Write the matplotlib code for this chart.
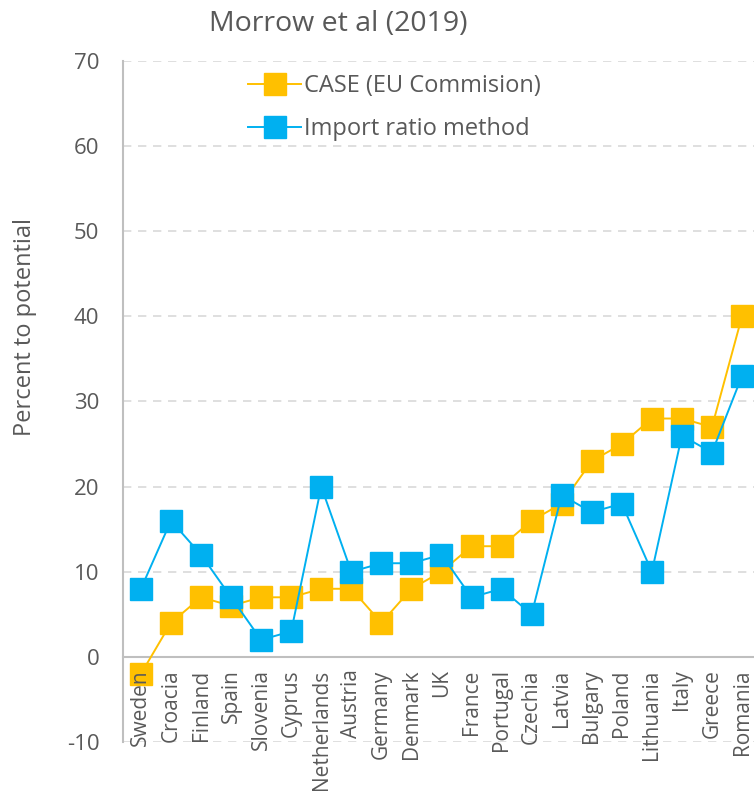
import matplotlib
matplotlib.use("Agg")
import matplotlib.pyplot as plt

countries = ["Sweden", "Croacia", "Finland", "Spain", "Slovenia", "Cyprus", "Netherlands",
             "Austria", "Germany", "Denmark", "UK", "France", "Portugal", "Czechia",
             "Latvia", "Bulgary", "Poland", "Lithuania", "Italy", "Greece", "Romania"]
case_eu = [-2, 4, 7, 6, 7, 7, 8, 8, 4, 8, 10, 13, 13, 16, 18, 23, 25, 28, 28, 27, 40]
import_ratio = [8, 16, 12, 7, 2, 3, 20, 10, 11, 11, 12, 7, 8, 5, 19, 17, 18, 10, 26, 24, 33]
yticks = [-10, 0, 10, 20, 30, 40, 50, 60, 70]

plt.rcParams['font.family'] = ['Open Sans', 'DejaVu Sans']
txt = '#595959'

fig = plt.figure(figsize=(7.54, 7.93), dpi=100)
ax = fig.add_axes([0.163, 0.0643, 0.845, 0.8588])

for s in ['top', 'right']:
    ax.spines[s].set_visible(False)
ax.spines['bottom'].set_position(('data', 0))
ax.spines['bottom'].set_color('#BFBFBF')
ax.spines['bottom'].set_linewidth(1.5)
ax.spines['left'].set_color('#BFBFBF')
ax.spines['left'].set_linewidth(1.5)

x = list(range(len(countries)))
ax.plot(x, case_eu, color='#FFC000', lw=1.4, marker='s', markersize=16,
        markeredgecolor='#FFC000', label='CASE (EU Commision)', zorder=3)
ax.plot(x, import_ratio, color='#00B0F0', lw=1.4, marker='s', markersize=16,
        markeredgecolor='#00B0F0', label='Import ratio method', zorder=4)

ax.set_ylim(-10, 70)
ax.set_xlim(-0.6, 20.6)
ax.set_yticks(yticks)
ax.set_yticklabels([str(v) for v in yticks], fontsize=16, color=txt)
ax.set_xticks(x)
ax.set_xticklabels(countries, rotation=90, fontsize=15, color=txt)
ax.tick_params(axis='y', length=0, pad=17)
ax.tick_params(axis='x', length=0, pad=9)

ax.yaxis.grid(True, linestyle=(0, (5, 4)), color='#D9D9D9', lw=1.2)
ax.set_axisbelow(True)
ax.xaxis.set_zorder(10)

fig.text(25 / 754, 1 - 327 / 793, 'Percent to potential', rotation=90,
         ha='center', va='center', fontsize=17, color=txt)
fig.text(0.448, 0.970, 'Morrow et al (2019)', ha='center', va='center', fontsize=20.5, color=txt)

leg = ax.legend(loc='upper left', bbox_to_anchor=(248 / 754, 1 - 74 / 793),
                bbox_transform=fig.transFigure, frameon=False, fontsize=17,
                handlelength=2.25, labelspacing=0.8, handletextpad=0.12,
                borderpad=0, borderaxespad=0)
for t in leg.get_texts():
    t.set_color(txt)

fig.savefig('out.png', dpi=100)
